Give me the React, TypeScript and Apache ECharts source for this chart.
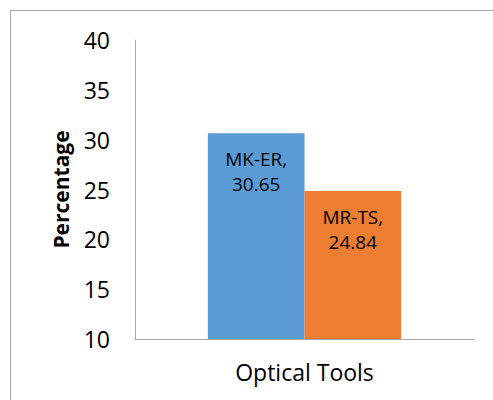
import React, { useEffect, useRef } from "react";
import * as echarts from "echarts";

const categories = ["Optical Tools"];
const seriesNames = ["MK-ER", "MR-TS"];
const seriesValues = [[30.65], [24.84]];
const seriesColors = ["#5B9BD5", "#ED7D31"];
const yTicks = { min: 10, max: 40, interval: 5 };

const FONT = "'Open Sans', sans-serif";

export default function App() {
  const ref = useRef<HTMLDivElement>(null);

  useEffect(() => {
    document.body.style.margin = "0";
    if (!ref.current) return;
    const chart = echarts.init(ref.current, null, { renderer: "svg" });
    chart.setOption({
      animation: false,
      backgroundColor: "#ffffff",
      textStyle: { fontFamily: FONT },
      graphic: [
        {
          type: "rect",
          shape: { x: 10.5, y: 10.5, width: 600, height: 600 },
          style: { fill: "none", stroke: "#a6a6a6", lineWidth: 1 },
          silent: true,
        },
      ],
      grid: { left: 135, right: 19, top: 40, bottom: 61 },
      xAxis: {
        type: "category",
        data: categories,
        axisLine: { lineStyle: { color: "#a6a6a6", width: 1 } },
        axisTick: { show: false },
        axisLabel: { color: "#000", fontSize: 23, fontFamily: FONT, margin: 21 },
      },
      yAxis: {
        type: "value",
        min: yTicks.min,
        max: yTicks.max,
        interval: yTicks.interval,
        name: "Percentage",
        nameLocation: "middle",
        nameGap: 64,
        nameTextStyle: { color: "#000", fontSize: 21, fontWeight: "bold", fontFamily: FONT },
        axisLine: { show: true, lineStyle: { color: "#a6a6a6", width: 1 } },
        axisTick: { show: false },
        splitLine: { show: false },
        axisLabel: { color: "#000", fontSize: 23, fontFamily: FONT, margin: 25 },
      },
      series: seriesNames.map((name, i) => ({
        name,
        type: "bar",
        data: seriesValues[i],
        barGap: "0%",
        barCategoryGap: "43%",
        itemStyle: { color: seriesColors[i] },
        label: {
          show: true,
          position: "insideTop",
          distance: 13,
          formatter: "{a},\n{c}",
          color: "#000",
          fontSize: 19,
          lineHeight: 25,
          fontFamily: FONT,
        },
      })),
    });
    return () => chart.dispose();
  }, []);

  return <div ref={ref} style={{ width: 493, height: 400 }} />;
}
